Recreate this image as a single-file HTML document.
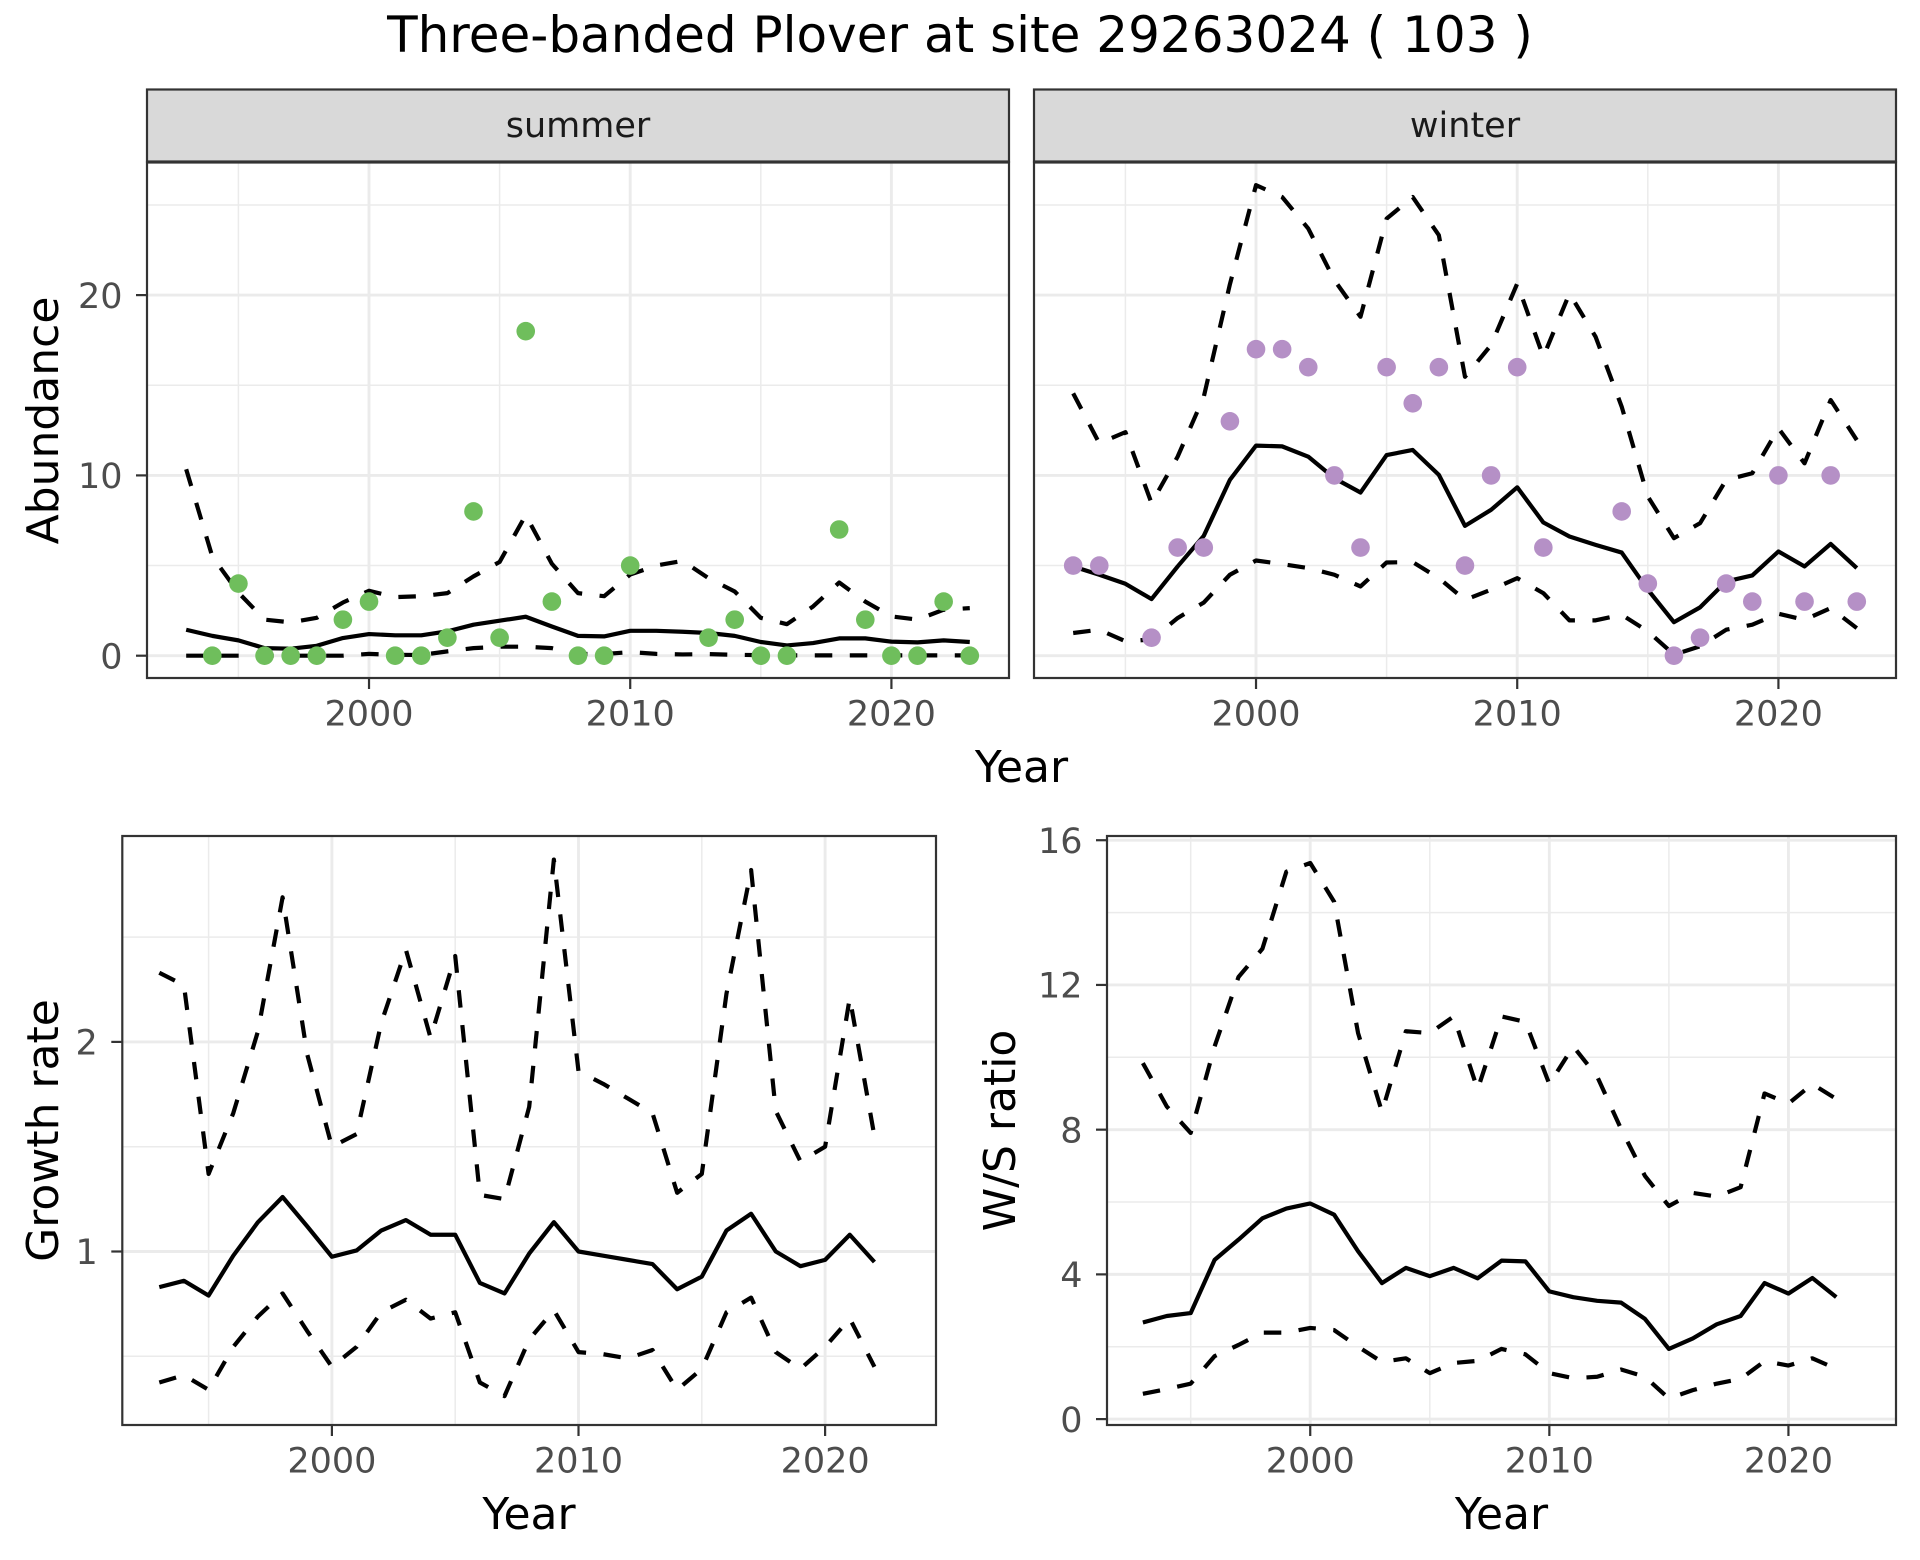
<!DOCTYPE html>
<html>
<head>
<meta charset="utf-8">
<style>
html,body{margin:0;padding:0;background:#fff;}
svg{display:block;}
text{font-family:"DejaVu Sans","Liberation Sans",sans-serif;}
</style>
</head>
<body>
<svg id="c" width="1920" height="1560" viewBox="0 0 1920 1560" xmlns="http://www.w3.org/2000/svg">
<rect width="1920" height="1560" fill="#ffffff"/>
<g id="panels"></g>
<!-- Title -->
<text x="960" y="52" text-anchor="middle" font-size="50" fill="#000">Three-banded Plover at site 29263024 ( 103 )</text>
<!-- Strips -->
<rect x="147" y="89.5" width="862" height="72" fill="#D9D9D9" stroke="#333333" stroke-width="2.2"/>
<rect x="1034" y="89.5" width="862" height="72" fill="#D9D9D9" stroke="#333333" stroke-width="2.2"/>
<text x="578" y="137" text-anchor="middle" font-size="35" fill="#1A1A1A">summer</text>
<text x="1465" y="137" text-anchor="middle" font-size="35" fill="#1A1A1A">winter</text>
<!-- Axis titles -->
<text x="1021.5" y="782" text-anchor="middle" font-size="44" fill="#000">Year</text>
<text x="529" y="1529" text-anchor="middle" font-size="44" fill="#000">Year</text>
<text x="1501.5" y="1529" text-anchor="middle" font-size="44" fill="#000">Year</text>
<text transform="translate(58,420.5) rotate(-90)" text-anchor="middle" font-size="44" fill="#000">Abundance</text>
<text transform="translate(58,1130.5) rotate(-90)" text-anchor="middle" font-size="44" fill="#000">Growth rate</text>
<text transform="translate(1015,1130.5) rotate(-90)" text-anchor="middle" font-size="44" fill="#000">W/S ratio</text>
</svg>
<script>
(function(){
var NS="http://www.w3.org/2000/svg";
var root=document.getElementById('panels');
function el(tag,attrs,parent){var e=document.createElementNS(NS,tag);for(var k in attrs)e.setAttribute(k,attrs[k]);(parent||root).appendChild(e);return e;}
function txt(s,attrs){var e=el('text',attrs);e.textContent=s;return e;}

function seq(start,arr){var out=[];for(var i=0;i<arr.length;i++)out.push([start+i,arr[i]]);return out;}

function drawPanel(p){
  var fx=function(yr){return p.x0+(yr-p.xmin)*p.xs;};
  var fy=function(v){return p.yz-(v-p.yv0)*p.ys;};
  el('rect',{x:p.x0,y:p.y0,width:p.x1-p.x0,height:p.y1-p.y0,fill:'#fff'});
  var i;
  // minor grid
  for(i=0;i<p.xminor.length;i++){var X=fx(p.xminor[i]);el('line',{x1:X,x2:X,y1:p.y0,y2:p.y1,stroke:'#EBEBEB','stroke-width':1.5});}
  for(i=0;i<p.yminor.length;i++){var Y=fy(p.yminor[i]);el('line',{x1:p.x0,x2:p.x1,y1:Y,y2:Y,stroke:'#EBEBEB','stroke-width':1.5});}
  // major grid
  for(i=0;i<p.xmajor.length;i++){var X2=fx(p.xmajor[i]);el('line',{x1:X2,x2:X2,y1:p.y0,y2:p.y1,stroke:'#EBEBEB','stroke-width':2.9});}
  for(i=0;i<p.ymajor.length;i++){var Y2=fy(p.ymajor[i]);el('line',{x1:p.x0,x2:p.x1,y1:Y2,y2:Y2,stroke:'#EBEBEB','stroke-width':2.9});}
  // lines
  for(i=0;i<p.lines.length;i++){
    var L=p.lines[i];var pts=L.d.map(function(d){return fx(d[0]).toFixed(2)+','+fy(d[1]).toFixed(2);}).join(' ');
    var a={points:pts,fill:'none',stroke:'#000','stroke-width':4.2,'stroke-linejoin':'round','stroke-linecap':'butt'};
    if(L.dash)a['stroke-dasharray']='17.5 17.5';
    el('polyline',a);
  }
  // points
  if(p.points){for(i=0;i<p.points.length;i++){var q=p.points[i];el('circle',{cx:fx(q[0]),cy:fy(q[1]),r:9.3,fill:p.pcol});}}
  // border
  el('rect',{x:p.x0,y:p.y0,width:p.x1-p.x0,height:p.y1-p.y0,fill:'none',stroke:'#333333','stroke-width':2.2});
  // x ticks + labels
  for(i=0;i<p.xmajor.length;i++){var X3=fx(p.xmajor[i]);
    el('line',{x1:X3,x2:X3,y1:p.y1,y2:p.y1+11,stroke:'#333333','stroke-width':2.2});
    txt(String(p.xmajor[i]),{x:X3,y:p.y1+47.7,'text-anchor':'middle','font-size':35,fill:'#4D4D4D'});
  }
  if(p.ylab){
    for(i=0;i<p.ymajor.length;i++){var Y3=fy(p.ymajor[i]);
      el('line',{x1:p.x0-11,x2:p.x0,y1:Y3,y2:Y3,stroke:'#333333','stroke-width':2.2});
      txt(String(p.ymajor[i]),{x:p.x0-24.5,y:Y3+12.7,'text-anchor':'end','font-size':35,fill:'#4D4D4D'});
    }
  }
}

// ---------- data ----------
var sMean=seq(1993,[1.44,1.1,0.85,0.42,0.39,0.55,0.98,1.2,1.13,1.13,1.35,1.72,1.94,2.16,1.62,1.1,1.07,1.38,1.38,1.33,1.26,1.1,0.76,0.57,0.7,0.96,0.96,0.78,0.74,0.85,0.76]);
var sUp=seq(1993,[10.34,5.5,3.5,2.0,1.85,2.1,2.95,3.6,3.25,3.3,3.47,4.4,5.2,7.8,5.1,3.47,3.3,4.5,5.0,5.26,4.3,3.56,2.1,1.75,2.73,4.06,3.0,2.18,2.0,2.55,2.64]);
var sLo=seq(1993,[0,0,0,0,0,0,0,0.1,0.05,0.04,0.24,0.42,0.5,0.5,0.42,0.1,0.09,0.2,0.1,0.07,0.09,0.05,0.03,0.02,0.02,0.02,0.02,0.02,0.02,0.02,0.02]);
var sPts=[[1994,0],[1995,4],[1996,0],[1997,0],[1998,0],[1999,2],[2000,3],[2001,0],[2002,0],[2003,1],[2004,8],[2005,1],[2006,18],[2007,3],[2008,0],[2009,0],[2010,5],[2013,1],[2014,2],[2015,0],[2016,0],[2018,7],[2019,2],[2020,0],[2021,0],[2022,3],[2023,0]];

var wMean=seq(1993,[4.95,4.49,3.99,3.14,4.95,6.65,9.75,11.65,11.61,11.04,9.84,9.05,11.13,11.41,10.03,7.2,8.09,9.34,7.39,6.61,6.15,5.72,3.66,1.86,2.68,4.12,4.45,5.78,4.95,6.2,4.86]);
var wUp=seq(1993,[14.55,11.78,12.4,8.46,11.04,14.36,20.6,26.1,25.44,23.69,20.83,18.8,24.24,25.44,23.32,15.47,17.23,20.64,16.58,20.09,17.69,13.81,8.83,6.52,7.35,9.75,10.12,12.61,10.67,14.18,11.96]);
var wLo=seq(1993,[1.26,1.44,0.8,0.9,2.09,2.95,4.49,5.28,5.08,4.86,4.49,3.84,5.17,5.19,4.3,3.1,3.66,4.3,3.47,1.96,1.96,2.27,1.35,0.06,0.52,1.44,1.72,2.33,1.99,2.64,1.53]);
var wPts=[[1993,5],[1994,5],[1996,1],[1997,6],[1998,6],[1999,13],[2000,17],[2001,17],[2002,16],[2003,10],[2004,6],[2005,16],[2006,14],[2007,16],[2008,5],[2009,10],[2010,16],[2011,6],[2014,8],[2015,4],[2016,0],[2017,1],[2018,4],[2019,3],[2020,10],[2021,3],[2022,10],[2023,3]];

var gMean=seq(1993,[0.83,0.86,0.79,0.98,1.14,1.26,1.12,0.975,1.005,1.10,1.15,1.08,1.08,0.85,0.80,0.99,1.14,1.0,0.98,0.96,0.94,0.82,0.88,1.10,1.18,1.0,0.93,0.96,1.08,0.95]);
var gUp=seq(1993,[2.33,2.27,1.37,1.66,2.05,2.69,1.94,1.50,1.56,2.09,2.44,2.02,2.41,1.27,1.25,1.69,2.87,1.86,1.80,1.73,1.66,1.28,1.37,2.23,2.82,1.67,1.43,1.50,2.21,1.55]);
var gLo=seq(1993,[0.375,0.41,0.34,0.545,0.69,0.80,0.62,0.45,0.545,0.71,0.77,0.68,0.71,0.375,0.31,0.58,0.72,0.52,0.51,0.49,0.53,0.34,0.44,0.71,0.78,0.52,0.44,0.545,0.68,0.45]);

var rMean=seq(1993,[2.67,2.85,2.93,4.40,4.96,5.55,5.82,5.96,5.65,4.64,3.76,4.18,3.95,4.18,3.89,4.38,4.36,3.53,3.37,3.27,3.22,2.77,1.94,2.23,2.62,2.85,3.76,3.47,3.90,3.37]);
var rUp=seq(1993,[9.84,8.64,7.91,10.30,12.22,13.0,15.13,15.37,14.30,10.67,8.49,10.72,10.67,11.13,9.11,11.13,10.98,9.26,10.30,9.47,8.02,6.72,5.89,6.25,6.15,6.41,9.0,8.72,9.26,8.85]);
var rLo=seq(1993,[0.70,0.83,0.98,1.74,2.05,2.39,2.39,2.52,2.46,2.0,1.58,1.68,1.27,1.55,1.61,1.94,1.79,1.27,1.13,1.17,1.37,1.17,0.57,0.80,0.98,1.11,1.60,1.48,1.68,1.39]);

var topY={y0:162.5,y1:678,yz:655.7,yv0:0,ys:18.03,ymajor:[0,10,20],yminor:[5,15,25]};
var topX={xmin:1991.5,xs:26.12,xmajor:[2000,2010,2020],xminor:[1995,2005,2015]};

function merge(a,b,c){var o={};[a,b,c].forEach(function(s){for(var k in s)o[k]=s[k];});return o;}

drawPanel(merge(topY,topX,{x0:147,x1:1009,ylab:true,pcol:'#6FBE5C',
  lines:[{d:sUp,dash:true},{d:sLo,dash:true},{d:sMean}],points:sPts}));
drawPanel(merge(topY,topX,{x0:1034,x1:1896,ylab:false,pcol:'#B590C6',
  lines:[{d:wUp,dash:true},{d:wLo,dash:true},{d:wMean}],points:wPts}));

drawPanel({x0:122.3,x1:936,y0:836,y1:1425,xmin:1991.5,xs:24.66,xmajor:[2000,2010,2020],xminor:[1995,2005,2015],
  yz:1251.5,yv0:1,ys:209.6,ymajor:[1,2],yminor:[0.5,1.5,2.5],ylab:true,
  lines:[{d:gUp,dash:true},{d:gLo,dash:true},{d:gMean}]});

drawPanel({x0:1107,x1:1896,y0:836,y1:1425,xmin:1991.5,xs:23.91,xmajor:[2000,2010,2020],xminor:[1995,2005,2015],
  yz:1419.1,yv0:0,ys:36.18,ymajor:[0,4,8,12,16],yminor:[2,6,10,14],ylab:true,
  lines:[{d:rUp,dash:true},{d:rLo,dash:true},{d:rMean}]});
})();
</script>
</body>
</html>
